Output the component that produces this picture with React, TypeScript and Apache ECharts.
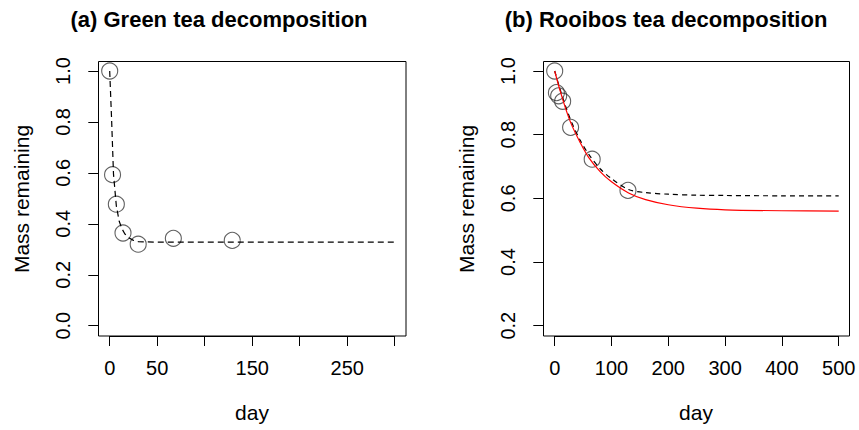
import React, { useEffect, useRef } from "react";
import * as echarts from "echarts";

// Panel (a): Green tea — observed points
const greenDays = [0, 3, 7, 14, 30, 67, 129];
const greenMass = [1.0, 0.593, 0.477, 0.364, 0.32, 0.343, 0.335];
// Panel (a): fitted curve
const greenFitDays = [0, 2, 4, 7, 10, 13, 16, 20, 25, 30, 50, 100, 200, 300];
const greenFitMass = [1.0, 0.81, 0.595, 0.47, 0.41, 0.38, 0.36, 0.345, 0.335, 0.33, 0.328, 0.328, 0.328, 0.328];

// Panel (b): Rooibos tea — observed points
const rooibosDays = [0, 3, 7, 14, 28, 66, 129];
const rooibosMass = [1.0, 0.932, 0.922, 0.905, 0.823, 0.723, 0.625];
// Panel (b): dashed black fit
const rooibosFitDays = [0, 10, 20, 30, 45, 60, 80, 100, 130, 160, 200, 250, 300, 400, 500];
const rooibosFitMass = [1.0, 0.94, 0.885, 0.838, 0.782, 0.738, 0.693, 0.662, 0.628, 0.618, 0.613, 0.61, 0.609, 0.608, 0.608];
// Panel (b): red fit
const rooibosRedDays = [0, 10, 20, 30, 45, 60, 80, 100, 130, 160, 200, 250, 300, 400, 500];
const rooibosRedMass = [1.0, 0.935, 0.878, 0.83, 0.775, 0.728, 0.684, 0.652, 0.617, 0.596, 0.58, 0.569, 0.564, 0.561, 0.56];

// Axis ranges and tick labels
const xRangeA = [0, 300];
const xStepA = 50;
const xLabelsA = [0, 50, 150, 250];
const yRangeA = [0, 1];
const xRangeB = [0, 500];
const xStepB = 100;
const yRangeB = [0.2, 1];
const yStep = 0.2;

const titles = ["(a) Green tea decomposition", "(b) Rooibos tea decomposition"];
const xName = "day";
const yName = "Mass remaining";

const FONT = "'Liberation Sans', Arial, Helvetica, sans-serif";

function zip(a: number[], b: number[]) {
  return a.map((v, i) => [v, b[i]]);
}

export default function App() {
  const ref = useRef<HTMLDivElement>(null);
  useEffect(() => {
    if (!ref.current) return;
    const chart = echarts.init(ref.current, undefined, { renderer: "svg" });
    const tickStyle = { show: true, inside: false, length: 10, lineStyle: { color: "#000", width: 1 } };
    const labelStyle = { color: "#000", fontSize: 20, fontFamily: FONT };
    const mkX = (gi: number, range: number[], step: number, labels: number[] | null) => ({
      type: "value",
      gridIndex: gi,
      min: range[0],
      max: range[1],
      interval: step,
      offset: 10.3,
      axisLine: { show: true, onZero: false, lineStyle: { color: "#000", width: 1 } },
      splitLine: { show: false },
      axisTick: tickStyle,
      axisLabel: {
        ...labelStyle,
        margin: 22,
        showMinLabel: true,
        showMaxLabel: true,
        hideOverlap: false,
        formatter: (v: number) => (labels === null || labels.indexOf(v) >= 0 ? String(v) : ""),
      },
    });
    const mkY = (gi: number, range: number[]) => ({
      type: "value",
      gridIndex: gi,
      min: range[0],
      max: range[1],
      interval: yStep,
      offset: 11.4,
      axisLine: { show: true, onZero: false, lineStyle: { color: "#000", width: 1 } },
      splitLine: { show: false },
      axisTick: tickStyle,
      axisLabel: { ...labelStyle, margin: 25, rotate: 90, showMinLabel: true, showMaxLabel: true, formatter: (v: number) => v.toFixed(1) },
    });
    const pointStyle = {
      symbol: "circle",
      symbolSize: 16,
      clip: false,
      itemStyle: { color: "rgba(0,0,0,0)", borderColor: "#3a3a3a", borderWidth: 1.1 },
    };
    const boxStyle = { fill: "none", stroke: "#000", lineWidth: 1 };
    const option: any = {
      animation: false,
      backgroundColor: "#fff",
      grid: [
        { left: 109.7, top: 71, width: 285, height: 254.7 },
        { left: 554.7, top: 71, width: 284, height: 254.7 },
      ],
      xAxis: [mkX(0, xRangeA, xStepA, xLabelsA), mkX(1, xRangeB, xStepB, null)],
      yAxis: [mkY(0, yRangeA), mkY(1, yRangeB)],
      series: [
        { type: "scatter", xAxisIndex: 0, yAxisIndex: 0, data: zip(greenDays, greenMass), ...pointStyle },
        {
          type: "line", xAxisIndex: 0, yAxisIndex: 0, data: zip(greenFitDays, greenFitMass), clip: false,
          showSymbol: false, symbol: "none", lineStyle: { color: "#000", width: 1.2, type: [6, 4] },
        },
        { type: "scatter", xAxisIndex: 1, yAxisIndex: 1, data: zip(rooibosDays, rooibosMass), ...pointStyle },
        {
          type: "line", xAxisIndex: 1, yAxisIndex: 1, data: zip(rooibosFitDays, rooibosFitMass), smooth: 0.3, clip: false,
          showSymbol: false, symbol: "none", lineStyle: { color: "#000", width: 1.2, type: [5, 4] },
        },
        {
          type: "line", xAxisIndex: 1, yAxisIndex: 1, data: zip(rooibosRedDays, rooibosRedMass), smooth: 0.3, clip: false,
          showSymbol: false, symbol: "none", lineStyle: { color: "#ff0000", width: 1.2 },
        },
      ],
      graphic: [
        { type: "rect", shape: { x: 98.5, y: 61.5, width: 307.5, height: 274.5 }, style: boxStyle, z: 100 },
        { type: "rect", shape: { x: 543.5, y: 61.5, width: 306, height: 274.5 }, style: boxStyle, z: 100 },
        { type: "text", x: 219, y: 19, style: { text: titles[0], font: `bold 22px ${FONT}`, fill: "#000", textAlign: "center", textVerticalAlign: "middle" } },
        { type: "text", x: 666, y: 19, style: { text: titles[1], font: `bold 22px ${FONT}`, fill: "#000", textAlign: "center", textVerticalAlign: "middle" } },
        { type: "text", x: 252, y: 412, style: { text: xName, font: `21px ${FONT}`, fill: "#000", textAlign: "center", textVerticalAlign: "middle" } },
        { type: "text", x: 696, y: 412, style: { text: xName, font: `21px ${FONT}`, fill: "#000", textAlign: "center", textVerticalAlign: "middle" } },
        { type: "text", x: 21, y: 199, rotation: Math.PI / 2, style: { text: yName, font: `21px ${FONT}`, fill: "#000", textAlign: "center", textVerticalAlign: "middle" } },
        { type: "text", x: 466, y: 199, rotation: Math.PI / 2, style: { text: yName, font: `21px ${FONT}`, fill: "#000", textAlign: "center", textVerticalAlign: "middle" } },
      ],
    };
    chart.setOption(option);
    return () => chart.dispose();
  }, []);
  return <div ref={ref} style={{ position: "fixed", left: 0, top: 0, width: 859, height: 430, background: "#fff" }} />;
}
